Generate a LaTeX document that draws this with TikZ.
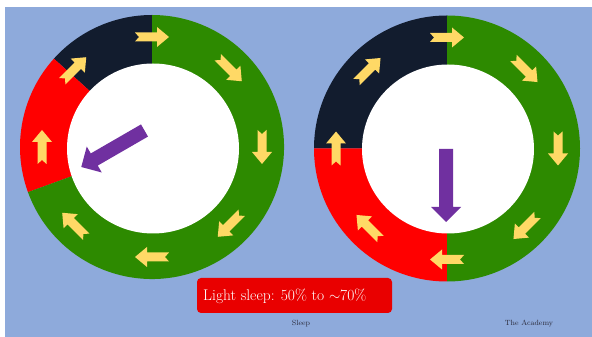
\documentclass[tikz,border=0pt]{standalone}
\usepackage{xcolor}
\definecolor{bgblue}{HTML}{8EAADB}
\definecolor{navyc}{HTML}{121C2E}
\definecolor{greenc}{HTML}{2D8A00}
\definecolor{redc}{HTML}{FF0000}
\definecolor{yellowc}{HTML}{FFD966}
\definecolor{purplec}{HTML}{7030A0}
\definecolor{labelred}{HTML}{E90000}
\definecolor{smalltext}{HTML}{2A2A3A}
\tikzset{
  yarrow/.pic={\fill[yellowc] (-17,4.5) -- (5,4.5) -- (5,10) -- (17,0) -- (5,-10) -- (5,-4.5) -- (-17,-4.5) -- (-13,0) -- cycle;},
  parrow/.pic={\fill[purplec] (0,7) -- (58,7) -- (58,15) -- (73,0) -- (58,-15) -- (58,-7) -- (0,-7) -- cycle;},
  smalllabel/.style={text=smalltext, font=\fontsize{7.5}{9}\selectfont, inner sep=0pt}
}
\begin{document}
\begin{tikzpicture}[x=1pt,y=1pt]
\useasboundingbox (0,0) rectangle (592,337);
\fill[white] (0,0) rectangle (592,337);
\fill[bgblue] (5,0) rectangle (592,330);

% left dial
\coordinate (L) at (152,190);
\fill[navyc] (L) -- ++(90:132) arc[start angle=90,end angle=138,radius=132] -- cycle;
\fill[redc] (L) -- ++(138:132) arc[start angle=138,end angle=200,radius=132] -- cycle;
\fill[greenc] (L) -- ++(200:132) arc[start angle=200,end angle=450,radius=132] -- cycle;
\fill[white] (153,188.5) ellipse[x radius=86,y radius=85];
\foreach \a in {90,45,0,-45,-90,-135,180,135}
  \pic[rotate=\a-90] at ([shift={(\a:110)}]L) {yarrow};
\pic[rotate=210] at (144.5,206.5) {parrow};

% right dial
\coordinate (R) at (447,188.5);
\fill[navyc] (R) -- ++(90:133) arc[start angle=90,end angle=180,radius=133] -- cycle;
\fill[redc] (R) -- ++(180:133) arc[start angle=180,end angle=270,radius=133] -- cycle;
\fill[greenc] (R) -- ++(-90:133) arc[start angle=-90,end angle=90,radius=133] -- cycle;
\fill[white] (448,188) ellipse[x radius=86,y radius=84.5];
\foreach \a in {90,45,0,-45,-90,-135,180,135}
  \pic[rotate=\a-90] at ([shift={(\a:111)}]R) {yarrow};
\pic[rotate=-90] at (446,188) {parrow};

% label
\node[fill=labelred, rounded corners=4pt, minimum width=195pt, minimum height=35pt, inner sep=0pt] (box) at (294.5,41.5) {};
\node[anchor=base west, text=white, font=\fontsize{15.5}{18}\selectfont, inner sep=0pt] (lbl) at (203,36) {Light sleep: 50\% to $\sim$70\%};
\node[smalllabel] (sleep) at (301,13) {Sleep};
\node[smalllabel] (acad) at (529,13) {The Academy};
\end{tikzpicture}
\end{document}
